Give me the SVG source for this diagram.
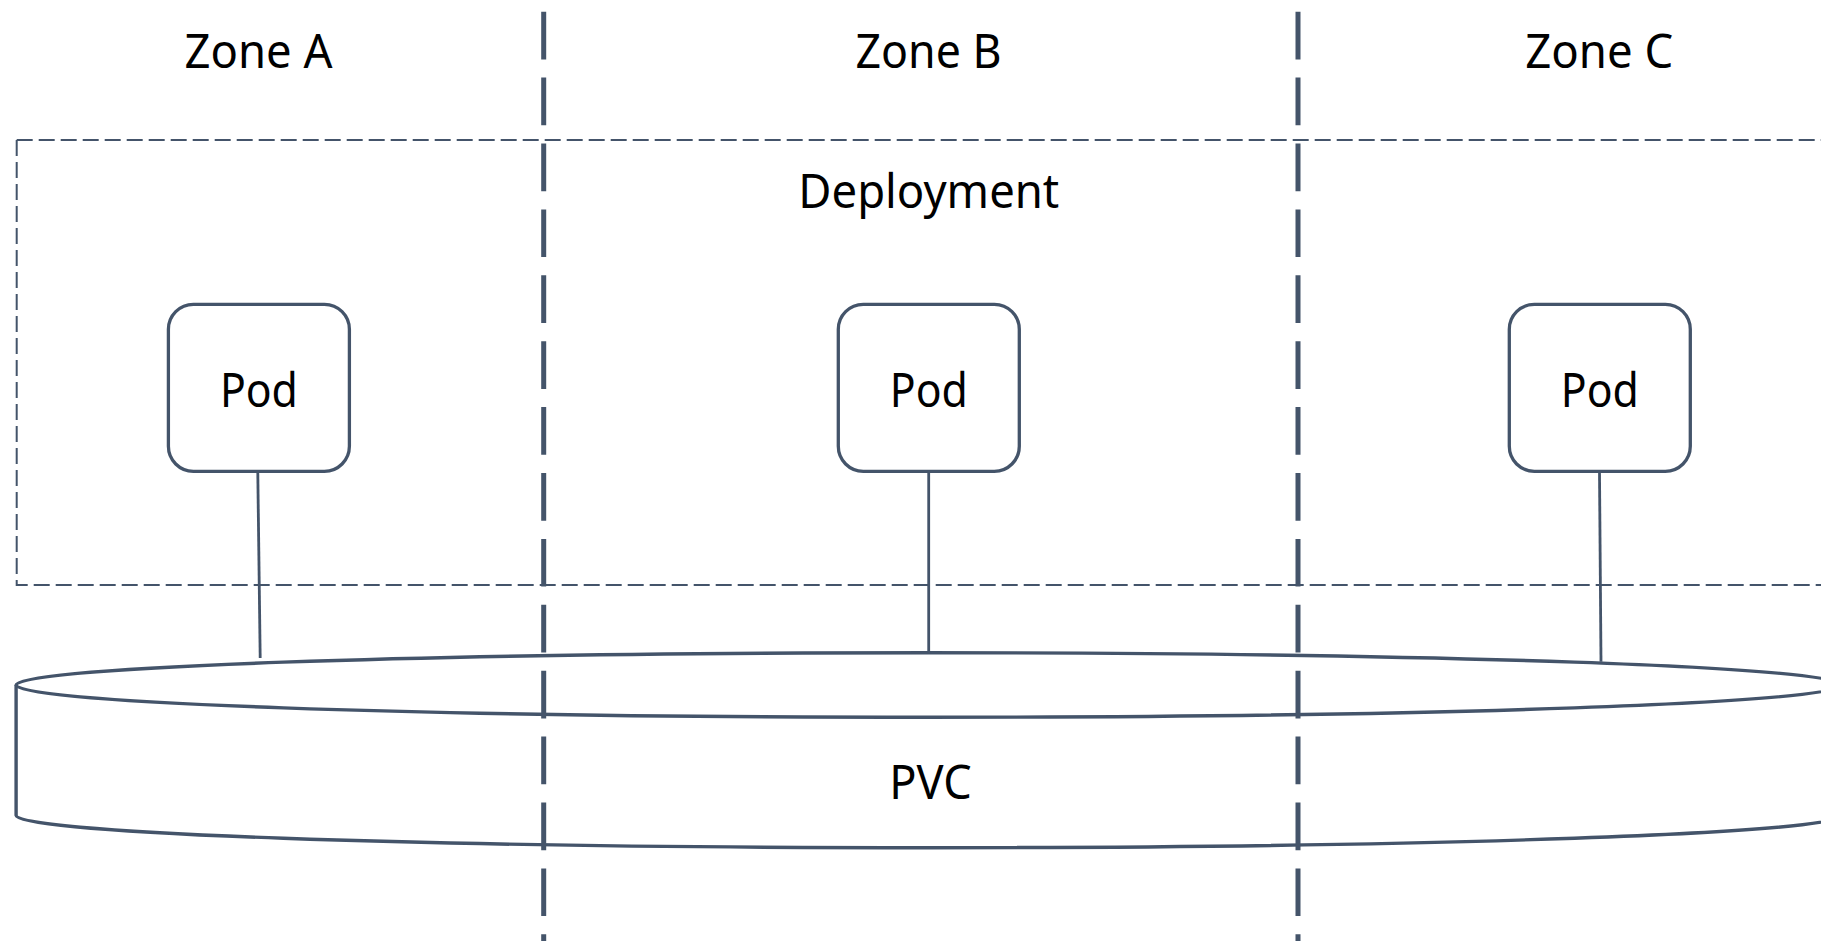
<svg xmlns="http://www.w3.org/2000/svg" width="1821" height="941" viewBox="0 0 1821 941">
  <style>
    .label { font-family: "Noto Sans", "Open Sans", "Liberation Sans", sans-serif; font-size: 48px; fill: #000000; text-anchor: middle; }
    .pod { fill: #ffffff; stroke: #44546A; stroke-width: 3.3; }
    .link { fill: none; stroke: #44546A; stroke-width: 2.8; }
    .zone-line { fill: none; stroke: #44546A; stroke-width: 5; stroke-dasharray: 47.7 18.2; }
    .group-box { fill: none; stroke: #44546A; stroke-width: 2; stroke-dasharray: 16 6; }
    .volume { fill: #ffffff; stroke: #44546A; stroke-width: 3.4; }
  </style>

  <rect x="0" y="0" width="1821" height="941" fill="#ffffff"/>

  <!-- zone headings -->
  <g id="zone-labels">
    <text class="label" x="258.5" y="67.7" textLength="148" lengthAdjust="spacingAndGlyphs">Zone A</text>
    <text class="label" x="928.5" y="67.7" textLength="146" lengthAdjust="spacingAndGlyphs">Zone B</text>
    <text class="label" x="1599.3" y="67.7" textLength="148" lengthAdjust="spacingAndGlyphs">Zone C</text>
  </g>

  <!-- deployment boundary, open to the right -->
  <g id="deployment">
    <path class="group-box" d="M16.7,140 H1830 M16.7,140 V585 H1830"/>
    <text class="label" x="928.8" y="208.3" textLength="261" lengthAdjust="spacingAndGlyphs">Deployment</text>
  </g>

  <!-- persistent volume claim cylinder -->
  <g id="pvc">
    <path class="volume" d="M16.1,685 V815.4 A912.9,32.3 0 0 0 1841.9,815.4 V685"/>
    <ellipse class="volume" cx="929" cy="685" rx="912.9" ry="32.3"/>
    <text class="label" x="930.5" y="799" textLength="82.4" lengthAdjust="spacingAndGlyphs">PVC</text>
  </g>

  <!-- pods -->
  <g id="pod-a">
    <rect class="pod" x="168.4" y="304.3" width="181" height="167" rx="25" ry="25"/>
    <text class="label" x="258.9" y="406.7" textLength="78" lengthAdjust="spacingAndGlyphs">Pod</text>
  </g>
  <g id="pod-b">
    <rect class="pod" x="838.3" y="304.3" width="181" height="167" rx="25" ry="25"/>
    <text class="label" x="928.8" y="406.7" textLength="78" lengthAdjust="spacingAndGlyphs">Pod</text>
  </g>
  <g id="pod-c">
    <rect class="pod" x="1509.3" y="304.3" width="181" height="167" rx="25" ry="25"/>
    <text class="label" x="1599.8" y="406.7" textLength="78" lengthAdjust="spacingAndGlyphs">Pod</text>
  </g>

  <!-- pod to volume links -->
  <g id="connectors">
    <path class="link" d="M257.8,473 L260.2,658"/>
    <path class="link" d="M928.7,473 V652.7"/>
    <path class="link" d="M1599.5,473 L1601,661.7"/>
  </g>

  <!-- zone boundaries -->
  <g id="zone-boundaries">
    <line class="zone-line" x1="543.7" y1="11.7" x2="543.7" y2="941"/>
    <line class="zone-line" x1="1298" y1="11.7" x2="1298" y2="941"/>
  </g>
</svg>
